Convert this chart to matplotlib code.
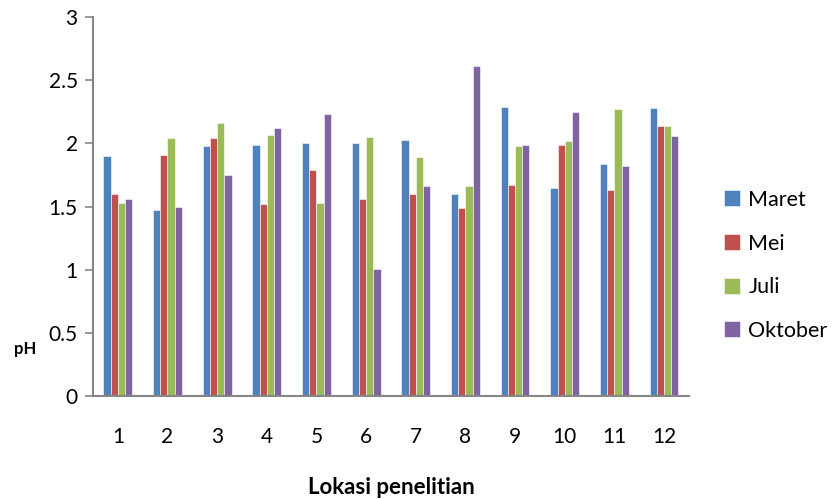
import numpy as np
import matplotlib.pyplot as plt

lokasi = ['1', '2', '3', '4', '5', '6', '7', '8', '9', '10', '11', '12']
maret = [1.90, 1.47, 1.98, 1.99, 2.00, 2.00, 2.03, 1.60, 2.29, 1.65, 1.84, 2.28]
mei = [1.60, 1.91, 2.04, 1.52, 1.79, 1.56, 1.60, 1.49, 1.67, 1.99, 1.63, 2.14]
juli = [1.53, 2.04, 2.16, 2.07, 1.53, 2.05, 1.89, 1.66, 1.98, 2.02, 2.27, 2.14]
oktober = [1.56, 1.50, 1.75, 2.12, 2.23, 1.01, 1.66, 2.61, 1.99, 2.25, 1.82, 2.06]

series = [('Maret', maret, '#4f81bd'), ('Mei', mei, '#c0504d'),
          ('Juli', juli, '#9bbb59'), ('Oktober', oktober, '#8064a2')]

plt.rcParams['font.family'] = ['Lato', 'DejaVu Sans']

fig = plt.figure(figsize=(8.38, 4.99), dpi=100)
ax = fig.add_axes([0.111, 0.206, 0.711, 0.760])

x = np.arange(len(lokasi))
w = 0.145
for i, (name, vals, col) in enumerate(series):
    ax.bar(x + (i - 1.5) * w, vals, w, color=col, label=name,
           edgecolor='white', linewidth=0.4)

ax.set_xlim(-0.5, len(lokasi) - 0.5)
ax.set_ylim(0, 3)
ax.set_yticks([0, 0.5, 1, 1.5, 2, 2.5, 3])
ax.set_yticklabels(['0', '0.5', '1', '1.5', '2', '2.5', '3'])
ax.set_xticks(x)
ax.set_xticklabels(lokasi)
ax.tick_params(axis='x', length=0, pad=22, labelsize=15)
ax.tick_params(axis='y', length=6, width=1.2, color='#868686', pad=5, labelsize=15)
for s in ['top', 'right']:
    ax.spines[s].set_visible(False)
for s in ['left', 'bottom']:
    ax.spines[s].set_color('#868686')
    ax.spines[s].set_linewidth(1.5)

ax.set_xlabel('Lokasi penelitian', fontsize=16, fontweight='bold', labelpad=22)
fig.text(0.017, 0.29, 'pH', fontsize=12, fontweight='bold')

ax.legend(loc='center left', bbox_to_anchor=(1.026, 0.345), frameon=False,
          fontsize=15.5, handlelength=0.75, handleheight=0.75,
          labelspacing=1.1, handletextpad=0.4)

fig.savefig('out.png', dpi=100)
